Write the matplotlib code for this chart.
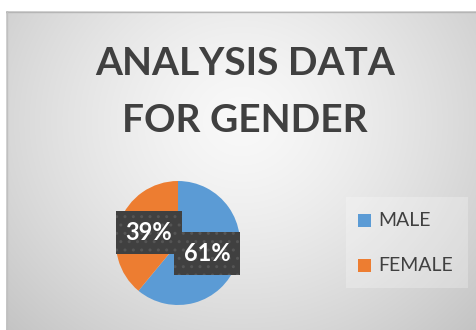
import numpy as np
import matplotlib
matplotlib.use('Agg')
import matplotlib.pyplot as plt
from matplotlib.patches import Rectangle

plt.rcParams['font.family'] = ['Lato', 'DejaVu Sans']

labels = ['MALE', 'FEMALE']
shares = [61, 39]
colors = ['#5B9BD5', '#ED7D31']
title_lines = ['ANALYSIS DATA', 'FOR GENDER']

W, H = 477, 330
fig = plt.figure(figsize=(W / 100, H / 100), dpi=100)
fig.patch.set_facecolor('white')

# chart area with a soft radial grey fill
bg = fig.add_axes([6 / W, 0, 471 / W, 319 / H])
bg.set_axis_off()
h, w = 319, 471
yy, xx = np.mgrid[0:h, 0:w]
d = np.hypot(xx - 235, (yy - 110) * 1.1) / 320
shade = np.clip(0.975 - 0.20 * d ** 1.4, 0, 1)
bg.imshow(np.dstack([shade] * 3), aspect='auto', extent=(0, w, h, 0))
bg.set_xlim(0, w)
bg.set_ylim(h, 0)
bg.plot([0, w], [0.5, 0.5], color='#b5b5b5', lw=1)
bg.plot([0.5, 0.5], [0, h], color='#c0c0c0', lw=1)

# title, one text per line so each baseline sits where it should
for i, line in enumerate(title_lines):
    fig.text(245 / W, 1 - (75 + i * 57) / H, line, ha='center', va='baseline',
             fontsize=28, fontweight='bold', color='#404040')

# pie
ax = fig.add_axes([116 / W, 25 / H, 124 / W, 124 / H])
wedges, _, autotexts = ax.pie(
    shares, colors=colors, startangle=90, counterclock=False,
    autopct=lambda p: f'{p:.0f}%', pctdistance=0.5,
    wedgeprops=dict(edgecolor='none'),
    textprops=dict(color='white', fontsize=17, fontweight='bold'))
for t, z in zip(autotexts, [6, 5]):
    t.set_zorder(z)
    t.set_bbox(dict(boxstyle='square,pad=0.42', facecolor='#404040',
                    edgecolor='#555555', hatch='..', lw=0))
ax.set_xlim(-1, 1)
ax.set_ylim(-1, 1)
ax.set_aspect('equal')

# legend panel
lg = fig.add_axes([0, 0, 1, 1])
lg.set_axis_off()
lg.set_xlim(0, W)
lg.set_ylim(H, 0)
lg.add_patch(Rectangle((346, 197), 122, 91, facecolor='white', alpha=0.25,
                       edgecolor='none'))
for i, (lab, col) in enumerate(zip(labels, colors)):
    y = 220.5 + i * 45
    lg.add_patch(Rectangle((358, y - 6.5), 13, 13, facecolor=col, edgecolor='none'))
    lg.text(378, y, lab, va='center', ha='left', fontsize=14, color='#404040')

fig.savefig('out.png', dpi=100)
